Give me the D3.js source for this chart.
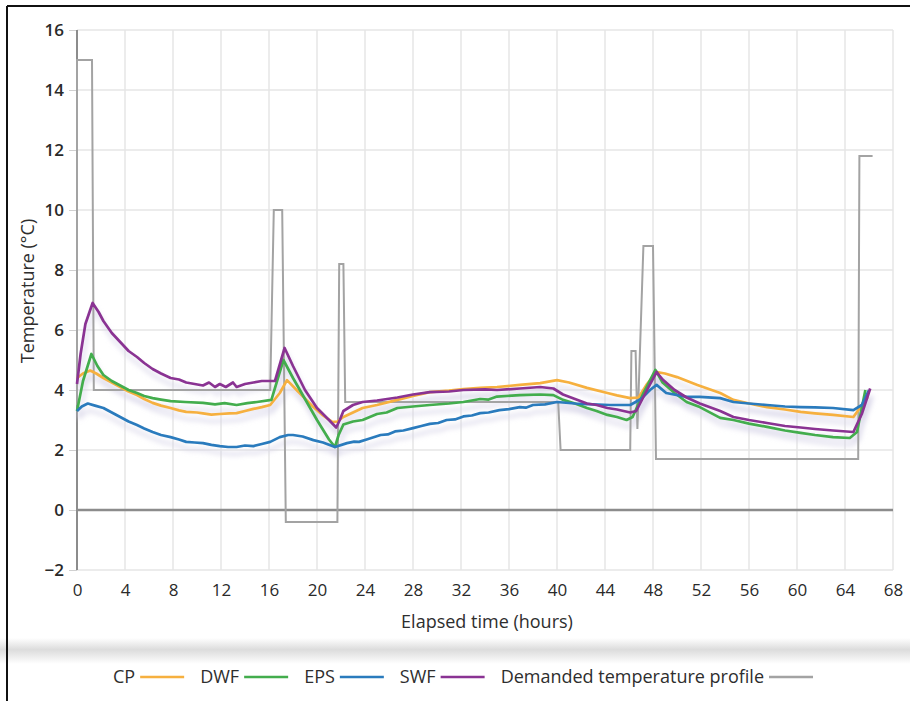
<!DOCTYPE html>
<html>
<head>
<meta charset="utf-8">
<script src="https://cdn.jsdelivr.net/npm/d3@7"></script>
<style>
  body { margin: 0; background: #fff; }
  text { font-family: "Open Sans", "Noto Sans", sans-serif; fill: #2e2e2e; }
</style>
</head>
<body>
<div id="chart"></div>
<script>
// Series: [hours, temperature °C]
const cp = [[0,4.4],[0.5,4.55],[1.1,4.65],[1.6,4.55],[2.2,4.4],[2.9,4.25],[3.6,4.1],[4.3,3.95],[5,3.83],[5.6,3.7],[6.3,3.57],[7,3.48],[7.8,3.4],[8.5,3.32],[9.1,3.27],[10,3.25],[10.5,3.22],[11.2,3.18],[11.9,3.2],[12.7,3.22],[13.3,3.23],[14,3.3],[14.7,3.37],[15.4,3.43],[16.1,3.5],[16.9,3.9],[17.5,4.33],[18.3,4.0],[19.7,3.43],[20.5,3.15],[21.3,2.93],[21.7,2.95],[22.2,3.1],[23,3.25],[23.8,3.4],[25,3.5],[26.7,3.67],[28,3.8],[29.4,3.93],[31,3.98],[32.2,4.03],[33.6,4.07],[35,4.1],[36.9,4.17],[38.6,4.23],[40,4.33],[41,4.25],[42.5,4.07],[44.2,3.9],[45,3.82],[46.1,3.73],[46.8,3.75],[47.5,4.2],[48.3,4.6],[49,4.55],[50,4.43],[51.7,4.17],[53.6,3.9],[54.7,3.67],[56,3.55],[57.5,3.43],[59,3.35],[60.3,3.27],[61.5,3.22],[63,3.17],[64.7,3.1],[65.9,3.77]];

const dwf = [[0,3.3],[0.5,4.3],[1.2,5.2],[1.7,4.8],[2.2,4.5],[2.9,4.3],[3.6,4.15],[4.3,4.0],[5,3.9],[5.6,3.8],[6.3,3.73],[7,3.68],[7.8,3.63],[9,3.6],[10.5,3.57],[11.5,3.52],[12.3,3.56],[13.3,3.5],[14.2,3.56],[15,3.6],[16.2,3.67],[17.2,5.0],[18,4.4],[19,3.7],[20,3.0],[21,2.35],[21.5,2.1],[21.8,2.5],[22.2,2.85],[23,2.95],[23.8,3.0],[25,3.2],[25.8,3.25],[26.7,3.4],[28,3.45],[29.4,3.5],[31,3.55],[32.2,3.6],[33.6,3.7],[34.3,3.68],[35,3.78],[36.9,3.83],[38.6,3.85],[39.7,3.83],[40.5,3.67],[41.5,3.55],[42.5,3.4],[43.3,3.3],[44.2,3.17],[45,3.1],[45.8,3.0],[46.3,3.1],[47.2,3.9],[48.2,4.67],[48.8,4.25],[49.8,3.9],[50.8,3.6],[51.9,3.43],[53.6,3.07],[54.7,3.0],[56,2.88],[57.5,2.77],[59,2.65],[60.3,2.57],[61.5,2.5],[63,2.43],[64.4,2.4],[65,2.6],[65.7,4.0]];

const eps = [[0,3.3],[0.4,3.45],[0.9,3.55],[1.5,3.48],[2.2,3.4],[2.9,3.25],[3.6,3.1],[4.3,2.95],[5,2.83],[5.6,2.72],[6.3,2.6],[7,2.5],[7.8,2.43],[8.5,2.35],[9.1,2.27],[9.8,2.25],[10.5,2.23],[11.2,2.17],[11.9,2.13],[12.6,2.1],[13.3,2.1],[14,2.15],[14.7,2.13],[15.4,2.2],[16.1,2.27],[16.9,2.43],[17.6,2.5],[18,2.5],[18.8,2.45],[19.7,2.33],[20.5,2.25],[21.5,2.1],[22.5,2.23],[23.1,2.28],[23.5,2.27],[24.2,2.36],[25.3,2.5],[25.9,2.52],[26.5,2.62],[27.2,2.65],[28,2.73],[28.7,2.8],[29.4,2.87],[30.1,2.9],[30.8,3.0],[31.5,3.02],[32.2,3.12],[32.9,3.15],[33.6,3.23],[34.3,3.25],[35.2,3.33],[36,3.36],[36.9,3.43],[37.4,3.41],[38,3.5],[39,3.52],[40,3.6],[41.5,3.55],[42.5,3.53],[44.4,3.5],[46.1,3.5],[47,3.7],[47.75,4.0],[48.3,4.17],[49.1,3.9],[50.8,3.77],[51.9,3.77],[53.6,3.73],[54.7,3.6],[56,3.55],[57.5,3.5],[59,3.45],[60.3,3.43],[61.5,3.42],[63,3.4],[64.7,3.33],[65.4,3.5],[66,4.0]];

const swf = [[0,4.2],[0.3,5.2],[0.7,6.2],[1.3,6.9],[1.8,6.6],[2.2,6.3],[2.9,5.9],[3.6,5.6],[4.3,5.3],[5,5.1],[5.6,4.9],[6.3,4.7],[7,4.55],[7.8,4.4],[8.5,4.35],[9.1,4.25],[9.8,4.2],[10.5,4.15],[11,4.25],[11.5,4.1],[11.9,4.2],[12.4,4.1],[13,4.25],[13.3,4.1],[14,4.2],[14.7,4.25],[15.4,4.3],[16.1,4.3],[16.5,4.3],[17.3,5.4],[18,4.8],[19,4.0],[20,3.4],[21,3.0],[21.6,2.75],[21.9,3.0],[22.2,3.3],[23,3.5],[23.8,3.6],[25,3.65],[26.7,3.75],[28,3.85],[29.4,3.93],[31,3.95],[32.2,4.0],[34,4.02],[35,4.0],[36.9,4.05],[38.6,4.1],[39.7,4.05],[40.5,3.85],[41.5,3.7],[42.5,3.55],[43.3,3.5],[44.2,3.4],[45,3.35],[46.1,3.25],[46.6,3.3],[47.5,4.0],[48.3,4.6],[48.8,4.35],[49.8,4.0],[50.8,3.75],[51.9,3.55],[53.6,3.3],[54.7,3.1],[56,3.0],[57.5,2.9],[59,2.8],[60.3,2.75],[61.5,2.7],[63,2.65],[64.7,2.6],[65.4,3.2],[66.1,4.05]];

const profile = [[0,3.5],[0,15],[1.25,15],[1.4,4],[16.1,4],[16.4,10],[17.1,10],[17.4,-0.4],[21.7,-0.4],[21.85,8.2],[22.2,8.2],[22.35,3.6],[40.1,3.6],[40.3,2.0],[46.1,2.0],[46.2,5.3],[46.55,5.3],[46.7,2.7],[47.2,8.8],[48.0,8.8],[48.25,1.7],[65.1,1.7],[65.2,11.8],[66.3,11.8]];

const xTicks = d3.range(0, 69, 4);
const yTicks = d3.range(-2, 17, 2);

const seriesNames = ["CP", "DWF", "EPS", "SWF"];
const seriesData = [cp, dwf, eps, swf];
const seriesColors = ["#f6b03f", "#43ad4d", "#2a7bbd", "#8a3393"];
const profileName = "Demanded temperature profile";
const profileColor = "#a3a3a3";

const W = 910, H = 701;
const svg = d3.select("#chart").append("svg")
  .attr("width", W).attr("height", H);

svg.append("rect").attr("width", W).attr("height", H).attr("fill", "#fff");

const x = d3.scaleLinear().domain([0, 68]).range([77, 893]);
const y = d3.scaleLinear().domain([-2, 16]).range([570, 30]);

// card bottom shadow
const defs = svg.append("defs");
const sh = defs.append("linearGradient").attr("id", "cardShadow")
  .attr("x1", 0).attr("x2", 0).attr("y1", 0).attr("y2", 1);
sh.append("stop").attr("offset", "0%").attr("stop-color", "#fff");
sh.append("stop").attr("offset", "45%").attr("stop-color", "#dcdcdc");
sh.append("stop").attr("offset", "100%").attr("stop-color", "#fff");
svg.append("rect").attr("x", 0).attr("y", 638).attr("width", W).attr("height", 26)
  .attr("fill", "url(#cardShadow)");

defs.append("filter").attr("id", "blur")
  .append("feGaussianBlur").attr("stdDeviation", 2.5);

// gridlines
svg.append("g").selectAll("line").data(xTicks).join("line")
  .attr("x1", d => x(d)).attr("x2", d => x(d))
  .attr("y1", y(16)).attr("y2", y(-2))
  .attr("stroke", "#e6e6e6").attr("stroke-width", 1.5);
svg.append("g").selectAll("line").data(yTicks).join("line")
  .attr("x1", x(0)).attr("x2", x(68))
  .attr("y1", d => y(d)).attr("y2", d => y(d))
  .attr("stroke", "#e6e6e6").attr("stroke-width", 1.5);

// axes
const yAxis = svg.append("g")
  .attr("transform", `translate(${x(0)},0)`)
  .call(d3.axisLeft(y).tickValues(yTicks).tickSize(8).tickPadding(5));
const xAxis = svg.append("g")
  .attr("transform", `translate(0,${y(-2)})`)
  .call(d3.axisBottom(x).tickValues(xTicks).tickSize(0).tickPadding(14));
[yAxis, xAxis].forEach(g => {
  g.select(".domain").remove();
  g.selectAll(".tick line").attr("stroke", "#d0d0d0");
  g.selectAll("text").style("font-size", "17px").style("fill", "#2a2a2a")
    .style("font-family", "'Open Sans', sans-serif");
});
yAxis.selectAll("text").style("font-weight", "600");

svg.append("line")
  .attr("x1", x(0)).attr("x2", x(0)).attr("y1", y(16)).attr("y2", y(-2))
  .attr("stroke", "#8c8c8c").attr("stroke-width", 2);
svg.append("line")
  .attr("x1", x(0)).attr("x2", x(68)).attr("y1", y(0)).attr("y2", y(0))
  .attr("stroke", "#8c8c8c").attr("stroke-width", 2.5);

// axis titles
svg.append("text")
  .attr("transform", `translate(34,${y(7.3)}) rotate(-90)`)
  .attr("text-anchor", "middle")
  .style("font-size", "18px")
  .text("Temperature (°C)");
svg.append("text")
  .attr("x", 487).attr("y", 628)
  .attr("text-anchor", "middle")
  .style("font-size", "18px")
  .text("Elapsed time (hours)");

const line = d3.line().x(d => x(d[0])).y(d => y(d[1]));

// soft shadow under the measured lines
svg.append("g").attr("filter", "url(#blur)").attr("transform", "translate(2,7)")
  .selectAll("path").data(seriesData).join("path")
  .attr("d", line).attr("fill", "none")
  .attr("stroke", "#d3d0e6").attr("stroke-width", 4).attr("opacity", 0.6);

svg.append("path").datum(profile)
  .attr("d", line).attr("fill", "none")
  .attr("stroke", profileColor).attr("stroke-width", 2);

svg.append("g").selectAll("path").data(seriesData).join("path")
  .attr("d", line).attr("fill", "none")
  .attr("stroke", (d, i) => seriesColors[i])
  .attr("stroke-width", 2.7)
  .attr("stroke-linejoin", "round");

// legend
const legendItems = seriesNames.map((n, i) => ({ name: n, color: seriesColors[i] }))
  .concat([{ name: profileName, color: profileColor }]);
const legend = svg.append("g");
let lx = 0;
legendItems.forEach(it => {
  const t = legend.append("text").attr("x", lx).attr("y", 0)
    .attr("dy", "0.35em").style("font-size", "18px").text(it.name);
  const w = t.node().getComputedTextLength();
  lx += w + 5;
  legend.append("line").attr("x1", lx).attr("x2", lx + 44)
    .attr("y1", 0).attr("y2", 0)
    .attr("stroke", it.color).attr("stroke-width", 2.5);
  lx += 44 + 16;
});
lx -= 16;
legend.attr("transform", `translate(${463 - lx / 2},677)`);

// frame
svg.append("line").attr("x1", 7).attr("x2", W).attr("y1", 6).attr("y2", 6)
  .attr("stroke", "#111").attr("stroke-width", 2);
svg.append("line").attr("x1", 7).attr("x2", 7).attr("y1", 6).attr("y2", H)
  .attr("stroke", "#111").attr("stroke-width", 2);
</script>
</body>
</html>
